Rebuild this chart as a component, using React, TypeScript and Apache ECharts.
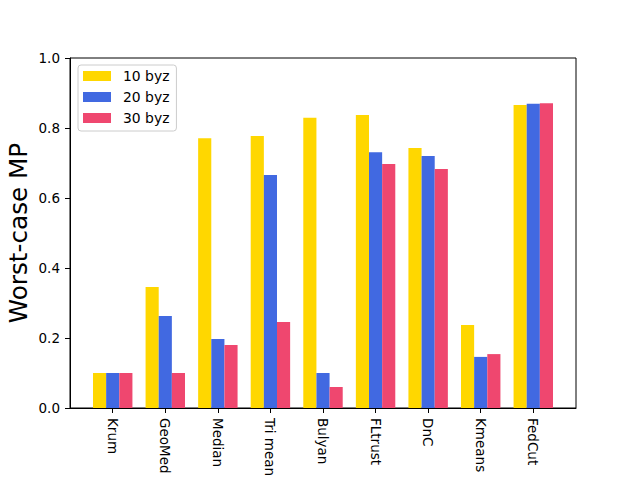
import React, { useEffect, useRef } from "react";
import * as echarts from "echarts";

const categories = ["Krum", "GeoMed", "Median", "Tri mean", "Bulyan", "FLtrust", "DnC", "Kmeans", "FedCut"];
const seriesNames = ["10 byz", "20 byz", "30 byz"];
const byz10 = [0.1, 0.346, 0.771, 0.777, 0.829, 0.837, 0.743, 0.237, 0.866];
const byz20 = [0.1, 0.263, 0.197, 0.666, 0.1, 0.731, 0.72, 0.146, 0.869];
const byz30 = [0.1, 0.1, 0.18, 0.246, 0.06, 0.697, 0.683, 0.154, 0.871];
const yTicks = [0, 0.2, 0.4, 0.6, 0.8, 1.0];
const colors = ["#FFD700", "#4169E1", "#EF476F"];

const FONT = "DejaVu Sans";

export default function App() {
  const ref = useRef<HTMLDivElement>(null);
  useEffect(() => {
    if (!ref.current) return;
    const chart = echarts.init(ref.current, null, { renderer: "svg" });
    const gridLeft = 70;
    const gridRight = 64;
    const plotW = 640 - gridLeft - gridRight;
    const xMin = -0.8125;
    const xMax = 8.8125;
    const unit = plotW / (xMax - xMin);
    const barW = unit * 0.25;
    const idx = categories.map((_, i) => i);
    const all = [byz10, byz20, byz30];
    chart.setOption({
      animation: false,
      backgroundColor: "#fff",
      textStyle: { fontFamily: FONT },
      grid: {
        left: gridLeft,
        right: gridRight,
        top: 58,
        bottom: 72,
        show: true,
        borderColor: "#000",
        borderWidth: 1,
        backgroundColor: "#fff",
      },
      legend: {
        data: seriesNames,
        orient: "vertical",
        left: 78,
        top: 65,
        itemWidth: 28,
        itemHeight: 10,
        itemGap: 7,
        padding: [4, 7, 6, 5],
        backgroundColor: "#fff",
        borderColor: "#ccc",
        borderWidth: 1,
        borderRadius: 3,
        icon: "rect",
        textStyle: { fontFamily: FONT, fontSize: 13.9, color: "#000", padding: [0, 0, 0, 7] },
      },
      xAxis: {
        type: "value",
        min: xMin,
        max: xMax,
        splitLine: { show: false },
        axisLine: { show: true, onZero: false, lineStyle: { color: "#000", width: 1 } },
        axisTick: {
          show: true,
          customValues: idx,
          length: 5,
          lineStyle: { color: "#000", width: 1 },
        },
        axisLabel: {
          customValues: idx,
          rotate: -90,
          margin: 10,
          fontFamily: FONT,
          fontSize: 13.5,
          color: "#000",
          formatter: (v: number) => categories[Math.round(v)] ?? "",
        },
      },
      yAxis: {
        type: "value",
        min: 0,
        max: 1,
        interval: 0.2,
        splitLine: { show: false },
        axisLine: { show: true, onZero: false, lineStyle: { color: "#000", width: 1 } },
        axisTick: { show: true, length: 5, lineStyle: { color: "#000", width: 1 } },
        axisLabel: {
          margin: 10,
          fontFamily: FONT,
          fontSize: 13.5,
          color: "#000",
          formatter: (v: number) => (yTicks.some((t) => Math.abs(t - v) < 1e-9) ? v.toFixed(1) : ""),
        },
      },
      graphic: [
        {
          type: "text",
          x: 18,
          y: 233,
          rotation: Math.PI / 2,
          style: {
            text: "Worst-case MP",
            fontFamily: FONT,
            fontSize: 24.7,
            fill: "#000",
            textAlign: "center",
            textVerticalAlign: "middle",
          },
        },
      ],
      series: all.map((vals, s) => ({
        name: seriesNames[s],
        type: "bar",
        barWidth: barW,
        barGap: "0%",
        itemStyle: { color: colors[s] },
        data: vals.map((v, i) => [i, v]),
      })),
    });
    return () => chart.dispose();
  }, []);
  return <div ref={ref} style={{ position: "fixed", left: 0, top: 0, width: 640, height: 480 }} />;
}
